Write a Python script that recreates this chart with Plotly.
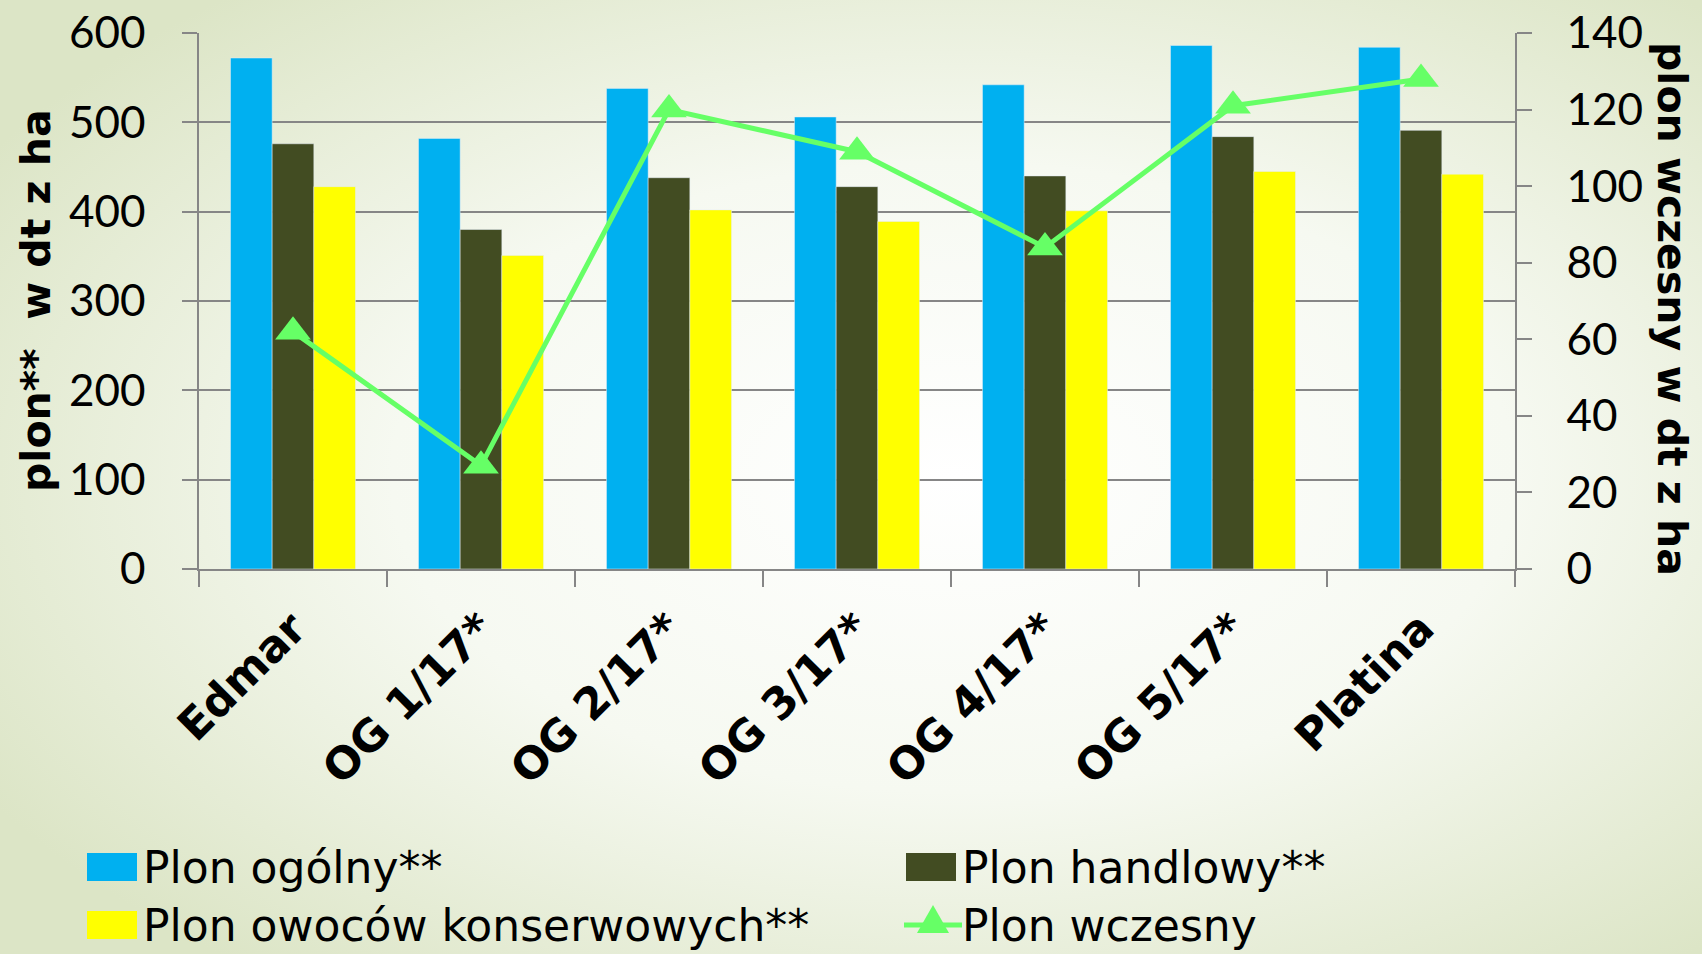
import base64
import plotly.graph_objects as go

categories = ["Edmar", "OG 1/17*", "OG 2/17*", "OG 3/17*", "OG 4/17*", "OG 5/17*", "Platina"]
plon_ogolny = [572, 482, 538, 506, 542, 586, 584]
plon_handlowy = [476, 380, 438, 428, 440, 484, 491]
plon_konserwowy = [428, 351, 402, 389, 401, 445, 442]
plon_wczesny = [62, 27, 120, 109, 84, 121, 128]

series_names = ["Plon ogólny**", "Plon handlowy**", "Plon owoców konserwowych**", "Plon wczesny"]
series_colors = ["#00B0F0", "#424C22", "#FFFF00", "#66FF66"]
left_title = "plon**  w dt z ha"
right_title = "plon wczesny w dt z ha"

W, H = 1702, 954
L, R, T, B = 199, 187, 33, 385
pw, ph = W - L - R, H - T - B

NUMFONT = "Lato"
TXTFONT = "DejaVu Sans"
GRID = "#868686"


def px(xp):
    return (xp - L) / pw


def py(yp):
    return (H - B - yp) / ph


fig = go.Figure()
for vals, name, col in zip([plon_ogolny, plon_handlowy, plon_konserwowy], series_names[:3], series_colors[:3]):
    fig.add_trace(go.Bar(x=categories, y=vals, name=name, marker_color=col, showlegend=False))
fig.add_trace(go.Scatter(x=categories, y=plon_wczesny, name=series_names[3], yaxis="y2",
                         mode="lines+markers", showlegend=False,
                         line=dict(color=series_colors[3], width=5),
                         marker=dict(symbol="triangle-up", size=31, color=series_colors[3])))

svg = f'''<svg xmlns="http://www.w3.org/2000/svg" width="{W}" height="{H}" viewBox="0 0 {W} {H}" preserveAspectRatio="none">
<defs><radialGradient id="g" cx="0.56" cy="0.5" r="0.66" gradientUnits="objectBoundingBox">
<stop offset="0" stop-color="#FFFFFF"/><stop offset="0.5" stop-color="#F6F9F1"/>
<stop offset="1" stop-color="#DCE5C6"/></radialGradient></defs>
<rect width="{W}" height="{H}" fill="url(#g)"/></svg>'''
src = "data:image/svg+xml;base64," + base64.b64encode(svg.encode()).decode()

# custom legend (2 columns x 2 rows)
legend_cols = [87, 906]
legend_rows = [867, 925]
shapes = []
annotations = []
for i, (name, col) in enumerate(zip(series_names, series_colors)):
    cx = legend_cols[i % 2]
    cy = legend_rows[i // 2]
    if i < 3:
        shapes.append(dict(type="rect", xref="paper", yref="paper",
                           x0=px(cx), x1=px(cx + 50), y0=py(cy - 14), y1=py(cy + 14),
                           fillcolor=col, line=dict(width=0), layer="above"))
    else:
        shapes.append(dict(type="line", xref="paper", yref="paper",
                           x0=px(cx - 2), x1=px(cx + 56), y0=py(cy), y1=py(cy),
                           line=dict(color=col, width=5), layer="above"))
        tri = (f"M {px(cx + 11)} {py(cy + 8)} L {px(cx + 43)} {py(cy + 8)} "
               f"L {px(cx + 27)} {py(cy - 20)} Z")
        shapes.append(dict(type="path", xref="paper", yref="paper", path=tri,
                           fillcolor=col, line=dict(width=0), layer="above"))
    annotations.append(dict(text=name, xref="paper", yref="paper", x=px(cx + 54), y=py(cy),
                            xanchor="left", yanchor="middle", showarrow=False,
                            font=dict(family=TXTFONT, size=44, color="black")))

annotations.append(dict(text=left_title, textangle=-90, xref="paper", yref="paper",
                        x=px(36), y=py(301), xanchor="center", yanchor="middle", showarrow=False,
                        font=dict(family=TXTFONT, size=41, color="black", weight="bold")))
annotations.append(dict(text=right_title, textangle=90, xref="paper", yref="paper",
                        x=px(1672), y=py(309), xanchor="center", yanchor="middle", showarrow=False,
                        font=dict(family=TXTFONT, size=41, color="black", weight="bold")))

fig.update_layout(
    width=W, height=H,
    margin=dict(l=L, r=R, t=T, b=B),
    paper_bgcolor="#E2EACF",
    plot_bgcolor="rgba(0,0,0,0)",
    barmode="group", bargap=0.335, bargroupgap=0,
    showlegend=False,
    font=dict(family=NUMFONT, color="black"),
    images=[dict(source=src, xref="paper", yref="paper",
                 x=-L / pw, y=1 + T / ph, sizex=W / pw, sizey=H / ph,
                 xanchor="left", yanchor="top", sizing="stretch", layer="below")],
    xaxis=dict(type="category", showline=True, linecolor=GRID, linewidth=1.5,
               ticks="outside", tickson="boundaries", ticklen=16, tickcolor=GRID, tickwidth=1.5,
               tickangle=-45, ticklabelstandoff=14,
               tickfont=dict(family=TXTFONT, size=44, color="black", weight="bold"),
               showgrid=False, automargin=False),
    yaxis=dict(range=[0, 600], dtick=100, showline=True, linecolor=GRID, linewidth=1.5,
               ticks="outside", ticklen=15, tickcolor=GRID, tickwidth=1.5,
               showgrid=True, gridcolor=GRID, gridwidth=1.5, zeroline=False,
               tickfont=dict(family=NUMFONT, size=44, color="black"), ticklabelstandoff=28,
               automargin=False),
    yaxis2=dict(range=[0, 140], dtick=20, overlaying="y", side="right", showline=True,
                linecolor=GRID, linewidth=1.5, ticks="outside", ticklen=15, tickcolor=GRID,
                tickwidth=1.5, showgrid=False, zeroline=False,
                tickfont=dict(family=NUMFONT, size=44, color="black"), ticklabelstandoff=26,
                automargin=False),
    shapes=shapes,
    annotations=annotations,
)

fig.write_html("out.html", config={"displayModeBar": False},
               post_script="document.body.style.margin='0';document.body.style.padding='0';"
                           "document.body.style.overflow='hidden';")
